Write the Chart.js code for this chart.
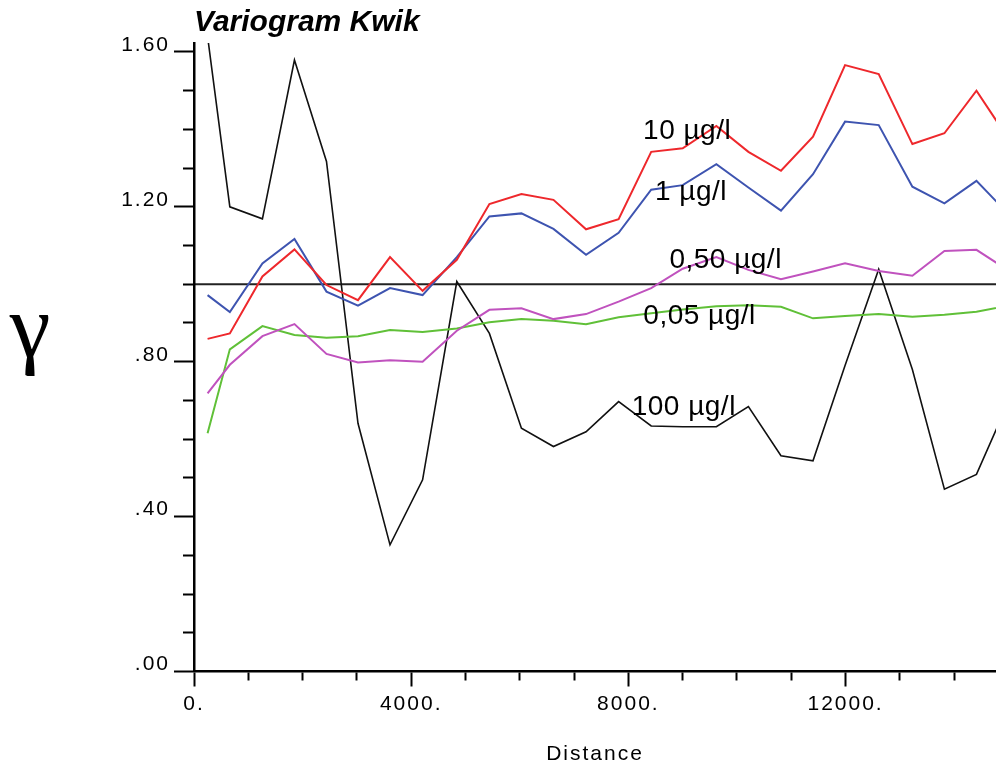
<!DOCTYPE html>
<html>
<head>
<meta charset="utf-8">
<title>Variogram Kwik</title>
<script src="https://cdn.jsdelivr.net/npm/chart.js@4.4.0/dist/chart.umd.min.js"></script>
<style>
  html, body { margin: 0; padding: 0; background: #fff; }
  #wrap { width: 996px; height: 767px; }
</style>
</head>
<body>
<div id="wrap"><canvas id="chart"></canvas></div>
<script>
// lag distances (m)
var lags = [250, 660, 1260, 1850, 2440, 3020, 3610, 4210, 4840, 5440, 6030, 6620, 7220,
            7820, 8420, 9000, 9620, 10210, 10810, 11400, 11990, 12610, 13230, 13820, 14410, 15010];

// standardised semivariance per threshold
var gamma10 = [0.859, 0.873, 1.020, 1.090, 0.998, 0.959, 1.070, 0.983, 1.063, 1.207, 1.233, 1.218, 1.142,
               1.168, 1.342, 1.351, 1.409, 1.342, 1.293, 1.381, 1.566, 1.543, 1.362, 1.390, 1.500, 1.373];
var gamma1 = [0.972, 0.928, 1.054, 1.117, 0.981, 0.945, 0.990, 0.972, 1.070, 1.175, 1.183, 1.143, 1.076,
              1.133, 1.244, 1.256, 1.310, 1.250, 1.190, 1.284, 1.420, 1.411, 1.252, 1.209, 1.267, 1.180];
var gamma050 = [0.718, 0.792, 0.866, 0.897, 0.820, 0.798, 0.804, 0.800, 0.880, 0.934, 0.938, 0.910, 0.923,
                0.955, 0.990, 1.040, 1.070, 1.037, 1.013, 1.033, 1.054, 1.034, 1.022, 1.086, 1.089, 1.034];
var gamma005 = [0.615, 0.832, 0.892, 0.869, 0.862, 0.866, 0.882, 0.877, 0.886, 0.902, 0.910, 0.906, 0.897,
                0.915, 0.925, 0.935, 0.943, 0.946, 0.942, 0.912, 0.918, 0.923, 0.916, 0.921, 0.929, 0.945];
var gamma100 = [1.640, 1.200, 1.169, 1.579, 1.317, 0.641, 0.327, 0.495, 1.007, 0.873, 0.628, 0.581, 0.619,
                0.697, 0.634, 0.632, 0.632, 0.684, 0.557, 0.544, 0.790, 1.039, 0.780, 0.471, 0.509, 0.700];

var seriesNames = ['10 µg/l', '1 µg/l', '0,50 µg/l', '0,05 µg/l', '100 µg/l'];
var sill = 1.0;

// axis ranges and tick steps
var xMax = 14770, xMinor = 1000, xMajor = 4000;
var yMax = 1.623, yMinor = 0.1, yMajor = 0.4;

function pairs(ys) {
    return ys.map(function (y, i) { return { x: lags[i], y: y }; });
}

function onStep(v, step) {
    var r = v / step;
    return Math.abs(r - Math.round(r)) < 1e-6;
}

function stepTicks(max, step) {
    var out = [];
    for (var i = 0; i * step <= max + 1e-9; i++) {
        out.push({ value: Math.round(i * step * 1000) / 1000 });
    }
    return out;
}

function line(name, ys, color, width) {
    return {
        label: name,
        data: pairs(ys),
        borderColor: color,
        borderWidth: width,
        pointRadius: 0,
        tension: 0,
        fill: false
    };
}

// where the curve names sit, in data units (left edge, vertical middle)
var nameSpots = [
    { x: 8270, y: 1.394 },
    { x: 8490, y: 1.237 },
    { x: 8755, y: 1.063 },
    { x: 8275, y: 0.918 },
    { x: 8060, y: 0.682 }
];

var axisFont = { family: 'Liberation Sans', size: 21, lineHeight: 1.2 };

var decorations = {
    id: 'decorations',
    beforeDraw: function (chart) { chart.ctx.letterSpacing = '0px'; },
    beforeDatasetsDraw: function (chart) {
        // sill reference line
        var ctx = chart.ctx, area = chart.chartArea;
        var y = chart.scales.y.getPixelForValue(sill);
        ctx.save();
        ctx.strokeStyle = '#222';
        ctx.lineWidth = 1.8;
        ctx.beginPath();
        ctx.moveTo(area.left, y);
        ctx.lineTo(area.right, y);
        ctx.stroke();
        ctx.restore();
    },
    afterDatasetsDraw: function (chart) {
        var ctx = chart.ctx;
        var xs = chart.scales.x, ys = chart.scales.y;
        ctx.save();
        ctx.fillStyle = '#000';
        ctx.textAlign = 'left';
        ctx.textBaseline = 'middle';
        ctx.letterSpacing = '0.5px';
        ctx.font = '28px "Liberation Sans"';
        nameSpots.forEach(function (p, i) {
            ctx.fillText(seriesNames[i], xs.getPixelForValue(p.x), ys.getPixelForValue(p.y));
        });
        // y axis symbol
        ctx.letterSpacing = '0px';
        ctx.textAlign = 'center';
        ctx.textBaseline = 'alphabetic';
        ctx.font = '92px "Liberation Serif"';
        ctx.fillText('γ', 30, 357);
        ctx.restore();
        // axes are drawn after this point, with tracked-out text
        ctx.letterSpacing = '2px';
    },
    afterDraw: function (chart) { chart.ctx.letterSpacing = '0px'; }
};

new Chart(document.getElementById('chart'), {
    type: 'line',
    data: {
        datasets: [
            line(seriesNames[0], gamma10, 'rgb(238, 40, 44)', 2),
            line(seriesNames[1], gamma1, 'rgb(62, 84, 176)', 2),
            line(seriesNames[2], gamma050, 'rgb(192, 82, 190)', 2),
            line(seriesNames[3], gamma005, 'rgb(96, 192, 56)', 2),
            line(seriesNames[4], gamma100, '#111', 1.6)
        ]
    },
    options: {
        responsive: true,
        maintainAspectRatio: false,
        animation: false,
        events: [],
        layout: { padding: 0 },
        plugins: {
            legend: { display: false },
            tooltip: { enabled: false },
            title: {
                display: true,
                text: 'Variogram Kwik',
                align: 'start',
                fullSize: false,
                color: '#000',
                font: { family: 'Liberation Sans', size: 30, weight: 'bold', style: 'italic', lineHeight: 1.2 },
                padding: { top: 5, bottom: 2 }
            }
        },
        scales: {
            x: {
                type: 'linear',
                min: 0,
                max: xMax,
                border: { color: '#000', width: 2.5, z: 1 },
                grid: {
                    z: 1,
                    drawOnChartArea: false,
                    tickLength: 15,
                    tickWidth: 2,
                    tickColor: '#000',
                    tickBorderDash: function (c) { return onStep(c.tick.value, xMajor) ? [] : [8, 20]; }
                },
                ticks: {
                    z: 1,
                    autoSkip: false,
                    maxRotation: 0,
                    padding: 5,
                    color: '#000',
                    font: axisFont,
                    callback: function (v) { return onStep(v, xMajor) ? v + '.' : ''; }
                },
                afterBuildTicks: function (s) { s.ticks = stepTicks(xMax, xMinor); },
                afterFit: function (s) { s.height = 95.5; },
                title: { display: true, text: 'Distance', color: '#000', font: axisFont, padding: 0 }
            },
            y: {
                min: 0,
                max: yMax,
                border: { color: '#000', width: 2.5, z: 1 },
                grid: {
                    z: 1,
                    drawOnChartArea: false,
                    tickLength: 20,
                    tickWidth: 2,
                    tickColor: '#000',
                    tickBorderDash: function (c) { return onStep(c.tick.value, yMajor) ? [] : [0, 9, 12, 0]; }
                },
                ticks: {
                    z: 1,
                    autoSkip: false,
                    padding: 4,
                    labelOffset: -7,
                    color: '#000',
                    font: axisFont,
                    callback: function (v) {
                        if (!onStep(v, yMajor)) return '';
                        var s = v.toFixed(2);
                        return v >= 1 ? s : s.slice(1);
                    }
                },
                afterBuildTicks: function (s) { s.ticks = stepTicks(yMax, yMinor); },
                afterFit: function (s) { s.width = 194; }
            }
        }
    },
    plugins: [decorations]
});
</script>
</body>
</html>
